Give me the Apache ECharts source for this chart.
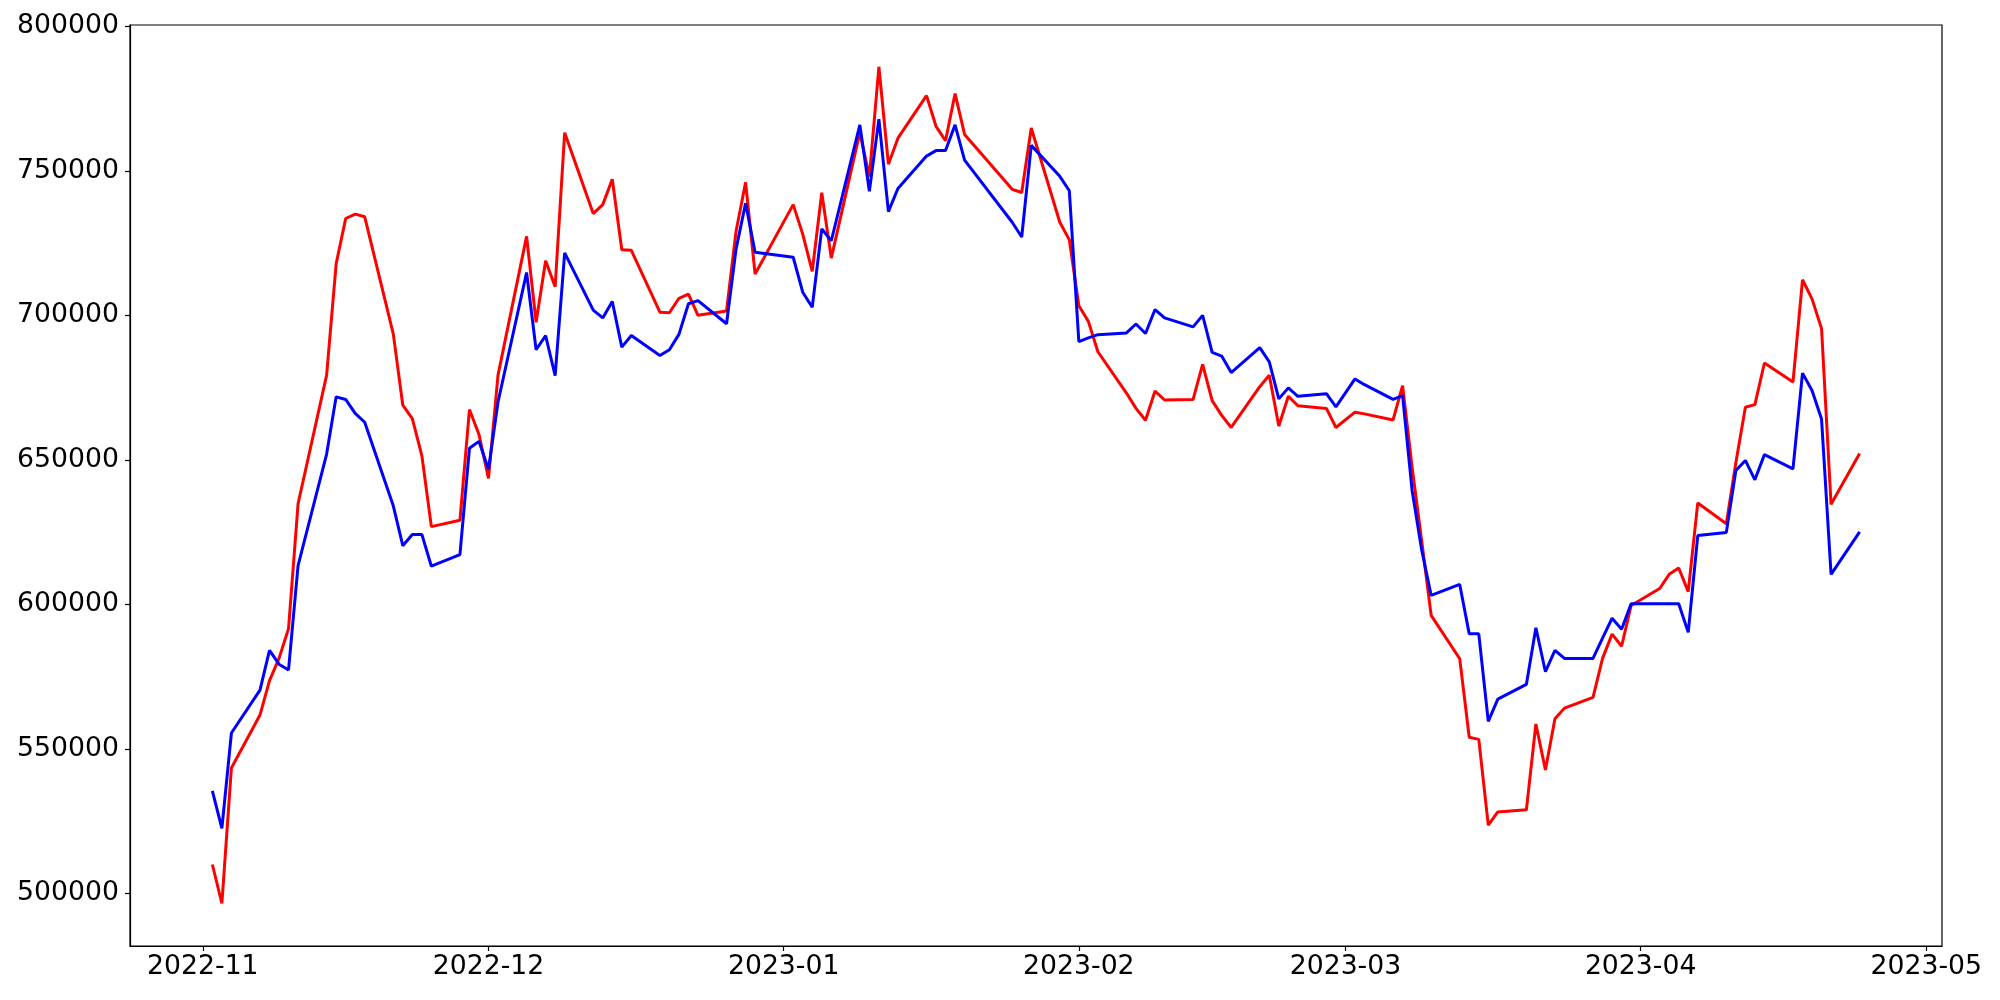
<!DOCTYPE html>
<html>
<head>
<meta charset="utf-8">
<script src="https://cdn.jsdelivr.net/npm/echarts@6/dist/echarts.min.js"></script>
<style>html,body{margin:0;padding:0;background:#fff;}#chart{width:2000px;height:1000px;}</style>
</head>
<body>
<div id="chart"></div>
<script>
const dates = [
'2022-11-02','2022-11-03','2022-11-04','2022-11-07','2022-11-08','2022-11-09','2022-11-10','2022-11-11',
'2022-11-14','2022-11-15','2022-11-16','2022-11-17','2022-11-18','2022-11-21','2022-11-22','2022-11-23',
'2022-11-24','2022-11-25','2022-11-28','2022-11-29','2022-11-30','2022-12-01','2022-12-02','2022-12-05',
'2022-12-06','2022-12-07','2022-12-08','2022-12-09','2022-12-12','2022-12-13','2022-12-14','2022-12-15',
'2022-12-16','2022-12-19','2022-12-20','2022-12-21','2022-12-22','2022-12-23','2022-12-26','2022-12-27',
'2022-12-28','2022-12-29','2023-01-02','2023-01-03','2023-01-04','2023-01-05','2023-01-06','2023-01-09',
'2023-01-10','2023-01-11','2023-01-12','2023-01-13','2023-01-16','2023-01-17','2023-01-18','2023-01-19',
'2023-01-20','2023-01-25','2023-01-26','2023-01-27','2023-01-30','2023-01-31','2023-02-01','2023-02-02',
'2023-02-03','2023-02-06','2023-02-07','2023-02-08','2023-02-09','2023-02-10','2023-02-13','2023-02-14',
'2023-02-15','2023-02-16','2023-02-17','2023-02-20','2023-02-21','2023-02-22','2023-02-23','2023-02-24',
'2023-02-27','2023-02-28','2023-03-02','2023-03-03','2023-03-06','2023-03-07','2023-03-08','2023-03-09',
'2023-03-10','2023-03-13','2023-03-14','2023-03-15','2023-03-16','2023-03-17','2023-03-20','2023-03-21',
'2023-03-22','2023-03-23','2023-03-24','2023-03-27','2023-03-28','2023-03-29','2023-03-30','2023-03-31',
'2023-04-03','2023-04-04','2023-04-05','2023-04-06','2023-04-07','2023-04-10','2023-04-11','2023-04-12',
'2023-04-13','2023-04-14','2023-04-17','2023-04-18','2023-04-19','2023-04-20','2023-04-21','2023-04-24'
];
const redValues = [
510000,496500,543400,561700,573600,581300,591600,634800,
679300,717800,733500,735000,734100,693600,668900,664300,
651500,626900,629100,667400,658800,643600,679300,727300,
697600,718900,709900,763200,735200,738300,747100,722700,
722500,701100,700900,705900,707300,700000,701500,729100,
746000,714300,738300,728100,715200,742400,719800,763300,
748000,786000,752300,761300,776000,765400,760400,776700,
762600,743600,742500,764800,732200,726100,703300,697900,
687400,673100,667800,663700,673800,670700,670900,683000,
670500,665400,661200,675300,679300,661700,672000,668700,
667800,661200,666500,665900,663800,675700,647400,622100,
596200,581200,554000,553300,523600,528200,528900,558600,
542700,560400,564100,567800,581300,589700,585500,599600,
605500,610400,612600,604400,635100,627900,649000,668200,
669100,683500,676900,712300,705700,695400,634600,652200
];
const blueValues = [
535500,522500,555500,570300,584100,579300,577300,613400,
652000,671800,670900,666100,663000,634100,620300,624200,
624200,613200,617200,654000,656400,646700,670000,714800,
688100,693000,679100,721600,701800,699100,704800,689000,
693000,686100,688100,693400,704000,705100,697100,722900,
738800,721800,720100,708000,702800,729900,725800,765900,
742900,767900,735900,743900,755100,757000,757000,765900,
753700,732200,727100,758800,748100,743100,690900,692200,
693300,693900,697000,693700,702000,699100,696000,700000,
687200,685900,680200,688800,683900,671100,674900,672000,
672900,668300,678000,676000,670900,672200,639400,618900,
603100,606900,589800,589800,559500,567200,572300,591900,
576700,584100,581300,581300,588300,595200,591400,600200,
600200,600200,600200,590300,623800,624900,646300,649800,
643100,651800,646900,680000,674000,664100,610400,625100
];
const yTicks = [500000, 550000, 600000, 650000, 700000, 750000, 800000];
const xTickMonths = ['2022-11-01','2022-12-01','2023-01-01','2023-02-01','2023-03-01','2023-04-01','2023-05-01'];

function parseLocal(s) { const p = s.split('-').map(Number); return new Date(p[0], p[1]-1, p[2]).getTime(); }
const t0 = parseLocal(dates[0]);
const t1 = parseLocal(dates[dates.length-1]);
const pad = (t1 - t0) * 0.05;
const xTickValues = xTickMonths.map(parseLocal);

const redData = dates.map((d, i) => [parseLocal(d), redValues[i]]);
const blueData = dates.map((d, i) => [parseLocal(d), blueValues[i]]);

const font = 'DejaVu Sans';
const chart = echarts.init(document.getElementById('chart'), null, {renderer: 'canvas'});
chart.setOption({
  animation: false,
  backgroundColor: '#ffffff',
  grid: { left: 130, right: 58, top: 25, bottom: 54, containLabel: false, show: true, borderColor: '#000', borderWidth: 1.2, backgroundColor: 'transparent' },
  xAxis: {
    type: 'value',
    min: t0 - pad,
    max: t1 + pad,
    splitLine: { show: false },
    axisLine: { show: true, lineStyle: { color: '#000', width: 1.2 } },
    axisTick: { show: true, inside: false, length: 5, lineStyle: { color: '#000', width: 1.2 }, customValues: xTickValues },
    axisLabel: {
      customValues: xTickValues,
      formatter: function (v) { const d = new Date(v); return d.getFullYear() + '-' + String(d.getMonth()+1).padStart(2,'0'); },
      color: '#000', fontFamily: font, fontSize: 26.7, margin: 8, hideOverlap: false
    }
  },
  yAxis: {
    type: 'value',
    min: 481800,
    max: 800450,
    splitLine: { show: false },
    axisLine: { show: true, lineStyle: { color: '#000', width: 1.2 } },
    axisTick: { show: true, inside: false, length: 5, lineStyle: { color: '#000', width: 1.2 }, customValues: yTicks },
    axisLabel: { customValues: yTicks, formatter: function (v) { return String(Math.round(v)); }, color: '#000', fontFamily: font, fontSize: 26.7, margin: 11 }
  },
  series: [
    { name: 'red', type: 'line', data: redData, showSymbol: false, symbol: 'none', lineStyle: { color: '#ff0000', width: 3 }, z: 2 },
    { name: 'blue', type: 'line', data: blueData, showSymbol: false, symbol: 'none', lineStyle: { color: '#0000ff', width: 3 }, z: 3 }
  ]
});
</script>
</body>
</html>
